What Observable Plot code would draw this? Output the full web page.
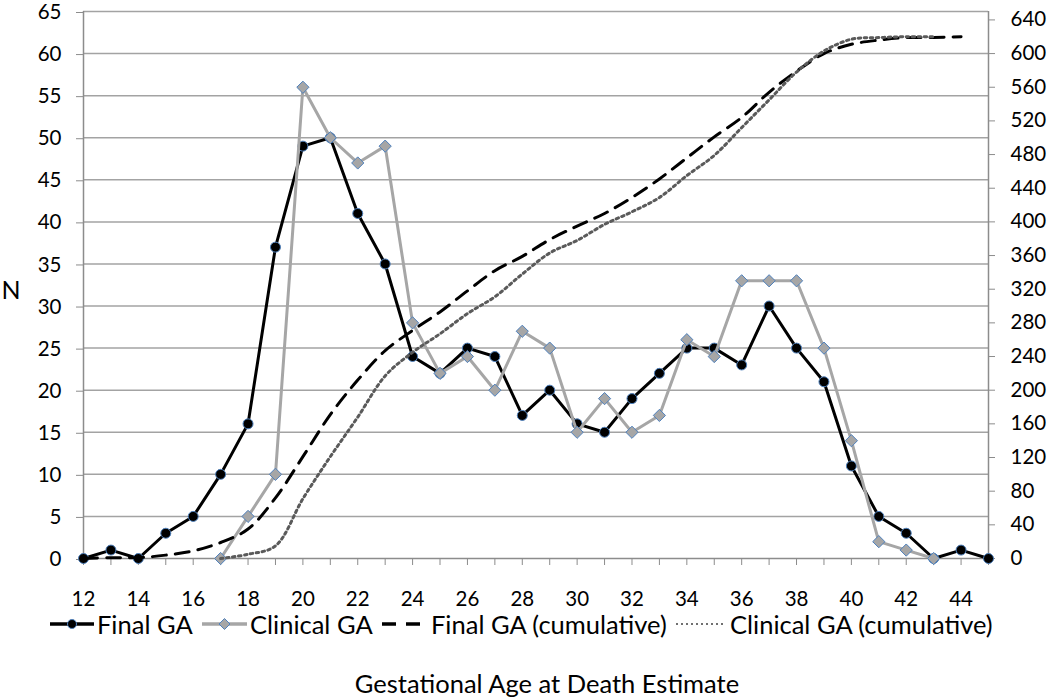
<!DOCTYPE html>
<html><head><meta charset="utf-8">
<script src="https://cdn.jsdelivr.net/npm/d3@7"></script>
<script src="https://cdn.jsdelivr.net/npm/@observablehq/plot@0.6"></script>
<style>
body{margin:0;background:#fff;font-family:Lato,"Open Sans",sans-serif;}
#wrap{position:relative;width:1050px;height:697px;overflow:hidden;}
.sym{position:absolute;top:613px;display:block;}
.txt{position:absolute;top:613px;height:22px;line-height:22px;font-size:25.5px;color:#000;white-space:nowrap;}
#title{position:absolute;top:671px;left:0;width:1094px;height:25px;line-height:25px;text-align:center;font-size:25.5px;color:#000;}
</style></head>
<body>
<div id="wrap"></div>
<script>
// Categories (gestational age, weeks)
const ages = [12,13,14,15,16,17,18,19,20,21,22,23,24,25,26,27,28,29,30,31,32,33,34,35,36,37,38,39,40,41,42,43,44,45];
const labelAges = [12,14,16,18,20,22,24,26,28,30,32,34,36,38,40,42,44];
// Final GA counts (12..45)
const finalGA = [0,1,0,3,5,10,16,37,49,50,41,35,24,22,25,24,17,20,16,15,19,22,25,25,23,30,25,21,11,5,3,0,1,0];
// Clinical GA counts (17..43)
const clinicalAges = [17,18,19,20,21,22,23,24,25,26,27,28,29,30,31,32,33,34,35,36,37,38,39,40,41,42,43];
const clinicalGA = [0,5,10,56,50,47,49,28,22,24,20,27,25,15,19,15,17,26,24,33,33,33,25,14,2,1,0];
// Cumulative series (right axis)
const finalCumAges = [12,13,14,15,16,17,18,19,20,21,22,23,24,25,26,27,28,29,30,31,32,33,34,35,36,37,38,39,40,41,42,43,44];
const finalCum = [0,1,1,4,9,19,35,72,121,171,212,247,271,293,318,342,359,379,395,410,429,451,476,501,524,554,579,600,611,616,619,619,620];
const clinicalCum = [0,5,15,71,121,168,217,245,267,291,311,338,363,378,397,412,429,455,479,512,545,578,603,617,619,620,620];
// Axis ticks
const leftTicks = [0,5,10,15,20,25,30,35,40,45,50,55,60,65];
const rightTicks = [0,40,80,120,160,200,240,280,320,360,400,440,480,520,560,600,640];
const rightMax = 650, leftMax = 65;
const k = leftMax / rightMax;

const finalData = ages.map((a,i)=>({x:a, y:finalGA[i]}));
const clinData = clinicalAges.map((a,i)=>({x:a, y:clinicalGA[i]}));
const finalCumData = finalCumAges.map((a,i)=>({x:a, y:finalCum[i]*k}));
const clinCumData = clinicalAges.map((a,i)=>({x:a, y:clinicalCum[i]*k}));

const axisGray = "#8c8c8c";
const plot = Plot.plot({
  width: 1050, height: 612,
  marginLeft: 83, marginRight: 62, marginTop: 11, marginBottom: 54,
  style: {fontFamily: "Lato, 'Open Sans', sans-serif", fontSize: "20.5px", color: "#000", background: "#fff"},
  x: {domain: [12,45], axis: null},
  y: {domain: [0,leftMax], axis: null},
  marks: [
    Plot.gridY(leftTicks.filter(d=>d>0), {stroke:"#a3a3a3", strokeOpacity:1, strokeWidth:1.5}),
    Plot.ruleY([0], {stroke: axisGray, strokeWidth: 1.5}),
    Plot.ruleX([12], {stroke: axisGray, strokeWidth: 1.5}),
    Plot.ruleX([45], {stroke: axisGray, strokeWidth: 1.5}),
    Plot.axisY({ticks: leftTicks, tickSize: 7, tickPadding: 15, stroke: axisGray, label: null, tickFormat: d=>String(d), dy: 1}),
    Plot.axisY({anchor: "right", ticks: rightTicks.map(v=>v*k), tickSize: 6, tickPadding: 16, stroke: axisGray, label: null, tickFormat: d=>String(Math.round(d/k))}),
    Plot.axisX({ticks: ages, tickSize: 7, tickPadding: 26, stroke: axisGray, label: null, fontSize: 20.5, tickFormat: d=>labelAges.includes(d) ? String(d) : ""}),
    Plot.text(["N"], {frameAnchor: "left", textAnchor: "start", dx: -82, dy: 6, fontSize: 25}),
    Plot.line(finalData, {x:"x", y:"y", stroke:"#000", strokeWidth:3}),
    Plot.dot(finalData, {x:"x", y:"y", r:5, fill:"#000", stroke:"#4f81bd", strokeWidth:1}),
    Plot.line(clinData, {x:"x", y:"y", stroke:"#a6a6a6", strokeWidth:3}),
    Plot.dot(clinData, {x:"x", y:"y", r:5.5, symbol:"diamond2", fill:"#a6a6a6", stroke:"#4f81bd", strokeWidth:1}),
    Plot.line(finalCumData, {x:"x", y:"y", stroke:"#000", strokeWidth:3, strokeDasharray:"14,9", curve:"catmull-rom"}),
    Plot.line(clinCumData, {x:"x", y:"y", stroke:"#5a5a5a", strokeWidth:3, strokeDasharray:"2.5,3.5", curve:"catmull-rom"})
  ]
});
const wrap = document.getElementById("wrap");
wrap.appendChild(plot);

// Legend
const legendItems = [
  {label:"Final GA", symLeft:50, symW:44, textLeft:97, stroke:"#000", width:3.5, dash:null, marker:"circle"},
  {label:"Clinical GA", symLeft:202, symW:45, textLeft:250, stroke:"#a6a6a6", width:3.5, dash:null, marker:"diamond"},
  {label:"Final GA (cumulative)", symLeft:382, symW:44, textLeft:431, stroke:"#000", width:3.5, dash:"14,10", marker:null},
  {label:"Clinical GA (cumulative)", symLeft:676, symW:48, textLeft:730, stroke:"#707070", width:2, dash:"2,3", marker:null}
];
const ns = "http://www.w3.org/2000/svg";
for (const it of legendItems) {
  const svg = document.createElementNS(ns, "svg");
  svg.setAttribute("class", "sym");
  svg.style.left = it.symLeft + "px";
  svg.setAttribute("width", it.symW); svg.setAttribute("height", 22);
  const ln = document.createElementNS(ns, "line");
  ln.setAttribute("x1", 0); ln.setAttribute("x2", it.symW);
  ln.setAttribute("y1", 11); ln.setAttribute("y2", 11);
  ln.setAttribute("stroke", it.stroke);
  ln.setAttribute("stroke-width", it.width);
  if (it.dash) ln.setAttribute("stroke-dasharray", it.dash);
  svg.appendChild(ln);
  const cx = it.symW / 2;
  if (it.marker === "circle") {
    const c = document.createElementNS(ns, "circle");
    c.setAttribute("cx", cx); c.setAttribute("cy", 11); c.setAttribute("r", 4.5);
    c.setAttribute("fill", "#000"); c.setAttribute("stroke", "#4f81bd"); c.setAttribute("stroke-width", 1);
    svg.appendChild(c);
  } else if (it.marker === "diamond") {
    const p = document.createElementNS(ns, "path");
    p.setAttribute("d", `M${cx},5.5L${cx+5.5},11L${cx},16.5L${cx-5.5},11Z`);
    p.setAttribute("fill", "#a6a6a6"); p.setAttribute("stroke", "#4f81bd"); p.setAttribute("stroke-width", 1);
    svg.appendChild(p);
  }
  wrap.appendChild(svg);
  const span = document.createElement("div");
  span.className = "txt";
  span.style.left = it.textLeft + "px";
  span.textContent = it.label;
  wrap.appendChild(span);
}
const title = document.createElement("div");
title.id = "title";
title.textContent = "Gestational Age at Death Estimate";
wrap.appendChild(title);
</script>
</body></html>
